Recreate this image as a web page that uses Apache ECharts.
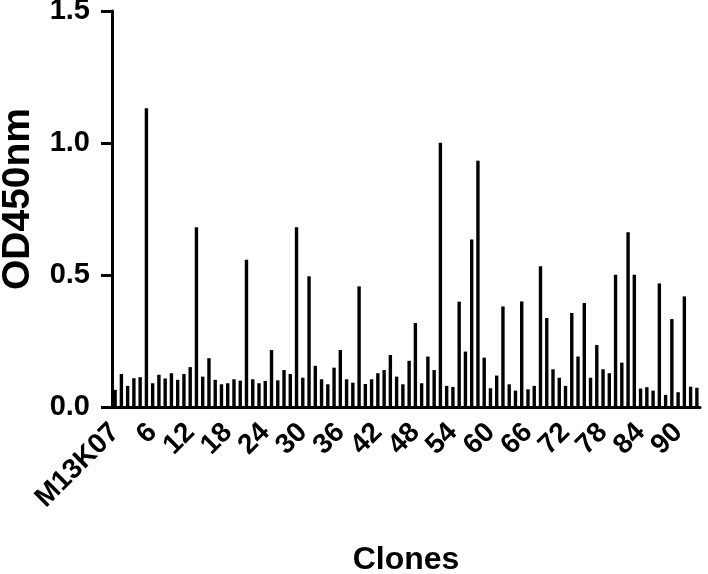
<!DOCTYPE html>
<html>
<head>
<meta charset="utf-8">
<script src="https://cdn.jsdelivr.net/npm/echarts@6/dist/echarts.min.js"></script>
<style>html,body{margin:0;padding:0;background:#fff;}#chart{width:708px;height:574px;}</style>
</head>
<body>
<div id="chart"></div>
<script>
const categories = ["M13K07","1","2","3","4","5","6","7","8","9","10","11","12","13","14","15","16","17","18","19","20",
"21","22","23","24","25","26","27","28","29","30","31","32","33","34","35","36","37","38","39","40",
"41","42","43","44","45","46","47","48","49","50","51","52","53","54","55","56","57","58","59","60",
"61","62","63","64","65","66","67","68","69","70","71","72","73","74","75","76","77","78","79","80",
"81","82","83","84","85","86","87","88","89","90","91","92","93"];
const od450 = [0.065,0.125,0.080,0.109,0.113,1.132,0.090,0.122,0.108,0.128,0.103,0.125,0.151,0.681,0.115,0.185,
0.103,0.086,0.090,0.105,0.100,0.558,0.105,0.090,0.099,0.216,0.101,0.140,0.125,0.681,0.111,0.495,0.156,0.105,
0.086,0.149,0.216,0.105,0.092,0.457,0.087,0.105,0.128,0.140,0.197,0.115,0.086,0.175,0.318,0.090,0.191,0.140,
1.001,0.080,0.076,0.399,0.210,0.634,0.933,0.187,0.071,0.119,0.381,0.086,0.062,0.400,0.067,0.080,0.533,0.337,
0.143,0.111,0.080,0.356,0.191,0.394,0.111,0.235,0.143,0.128,0.501,0.168,0.662,0.501,0.070,0.075,0.062,0.468,
0.046,0.333,0.056,0.419,0.077,0.073];
const yTicks = [0, 0.5, 1.0, 1.5];
const labelEvery = 6;

const font = '"Liberation Sans", Arial, sans-serif';
const chart = echarts.init(document.getElementById('chart'));
chart.setOption({
  animation: false,
  grid: {left: 112, right: 8, top: 11, bottom: 167, containLabel: false, outerBoundsMode: 'none'},
  xAxis: {
    type: 'category',
    data: categories,
    name: 'Clones',
    nameLocation: 'middle',
    nameGap: 137,
    nameTextStyle: {fontFamily: font, fontWeight: 'bold', fontSize: 32, color: '#000'},
    axisLine: {lineStyle: {color: '#000', width: 3}},
    axisTick: {alignWithLabel: true, interval: labelEvery - 1, length: 15, lineStyle: {color: '#000', width: 3}},
    axisLabel: {interval: 0, rotate: 45, margin: 21, hideOverlap: false,
      formatter: (value, index) => (index % labelEvery === 0 ? value : ''),
      fontFamily: font, fontWeight: 'bold', fontSize: 28, color: '#000'}
  },
  yAxis: {
    type: 'value',
    min: yTicks[0], max: yTicks[yTicks.length - 1], interval: 0.5,
    name: 'OD450nm',
    nameLocation: 'middle',
    nameGap: 74,
    nameRotate: 90,
    nameTextStyle: {fontFamily: font, fontWeight: 'bold', fontSize: 39, color: '#000', padding: [0, 0, 0, 20]},
    axisLine: {show: true, lineStyle: {color: '#000', width: 3}},
    axisTick: {show: true, length: 11, lineStyle: {color: '#000', width: 3}},
    splitLine: {show: false},
    axisLabel: {margin: 22, fontFamily: font, fontWeight: 'bold', fontSize: 29, color: '#000',
      formatter: v => v.toFixed(1)}
  },
  series: [{
    type: 'bar',
    data: od450,
    barWidth: 3.4,
    itemStyle: {color: '#000'}
  }]
});
</script>
</body>
</html>
